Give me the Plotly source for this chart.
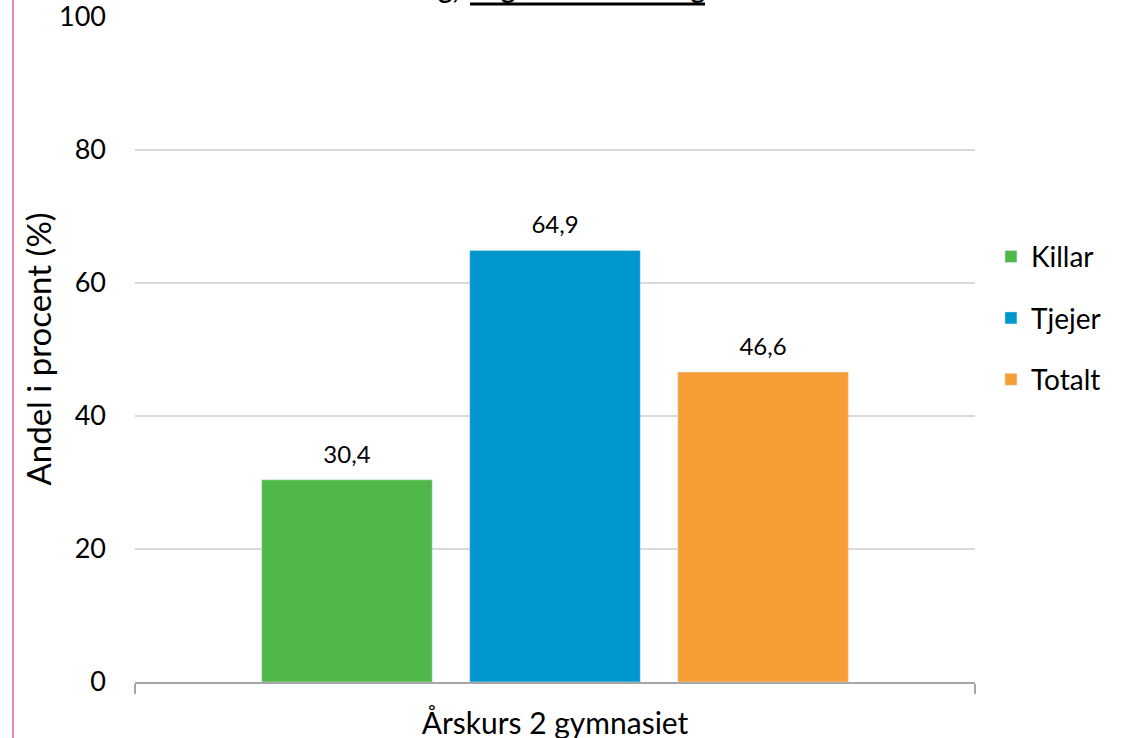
import plotly.graph_objects as go

category = ["Årskurs 2 gymnasiet"]
series_names = ["Killar", "Tjejer", "Totalt"]
series_values = [[30.4], [64.9], [46.6]]
series_colors = ["#50B848", "#0097CE", "#F79D36"]
y_ticks = [0, 20, 40, 60, 80, 100]

FONT = "Lato"
fig = go.Figure()
for name, vals, col in zip(series_names, series_values, series_colors):
    fig.add_trace(go.Bar(
        x=category, y=vals, name=name, marker_color=col, legendgroup=name,
        offsetgroup=name, hoverinfo="skip",
    ))
for name, vals in zip(series_names, series_values):
    fig.add_trace(go.Scatter(
        x=category, y=vals, mode="markers+text", offsetgroup=name,
        marker=dict(size=16, opacity=0), texttemplate="%{y:.1f}",
        textposition="top center", showlegend=False, cliponaxis=False,
        textfont=dict(size=24, color="#000000", family=FONT), hoverinfo="skip",
    ))

fig.update_layout(
    width=1133, height=738,
    margin=dict(l=135, r=158, t=17, b=56, autoexpand=False),
    paper_bgcolor="white", plot_bgcolor="white",
    separators=", ",
    bargap=0.257, bargroupgap=0.18,
    scattermode="group", scattergap=0.257,
    font=dict(family=FONT, color="#000000"),
    showlegend=True,
    legend=dict(x=1.019, y=0.677, xanchor="left", yanchor="top",
                font=dict(size=28, family=FONT), tracegroupgap=22,
                traceorder="grouped", bgcolor="rgba(0,0,0,0)"),
    xaxis=dict(type="category", showline=True, linecolor="#A6A6A6", linewidth=1.5,
               ticks="outside", tickson="boundaries", ticklen=10, tickcolor="#A6A6A6",
               tickwidth=1.5, tickfont=dict(size=30, family=FONT), showgrid=False,
               automargin=False, ticklabelstandoff=14, ticklabeloverflow="allow"),
    yaxis=dict(range=[0, 100], tickvals=y_ticks, showgrid=True, gridcolor="#D9D9D9",
               gridwidth=1.5, zeroline=False, showline=False, ticks="",
               tickfont=dict(size=27, family=FONT), ticklabelstandoff=28,
               automargin=False, ticklabeloverflow="allow"),
    annotations=[
        dict(text="Andel i procent (%)", textangle=-90, xref="paper", yref="paper",
             x=(37 - 135) / 840, y=0.5, xanchor="center", yanchor="middle",
             showarrow=False, font=dict(size=33, family=FONT)),
        dict(text="<b>Användning,</b>", xref="paper", yref="paper",
             x=(461 - 135) / 840, y=1 + 10 / 665, xanchor="right", yanchor="bottom",
             showarrow=False, font=dict(size=27, family=FONT)),
        dict(text="<b>något sammanhang</b>", xref="paper", yref="paper",
             x=(470 - 135) / 840, y=1 + 10 / 665, xanchor="left", yanchor="bottom",
             showarrow=False, font=dict(size=27, family=FONT)),
    ],
    shapes=[
        dict(type="line", xref="paper", yref="paper", x0=(13 - 135) / 840, x1=(13 - 135) / 840,
             y0=-0.2, y1=1.2, line=dict(color="#E8609E", width=1.5)),
        dict(type="line", xref="paper", yref="paper", x0=(470 - 135) / 840, x1=(705 - 135) / 840,
             y0=1 + (17 - 4) / 665, y1=1 + (17 - 4) / 665, line=dict(color="#000000", width=3)),
    ],
)

fig.write_html("out.html", config={"displayModeBar": False},
               post_script="document.body.style.margin='0';")
